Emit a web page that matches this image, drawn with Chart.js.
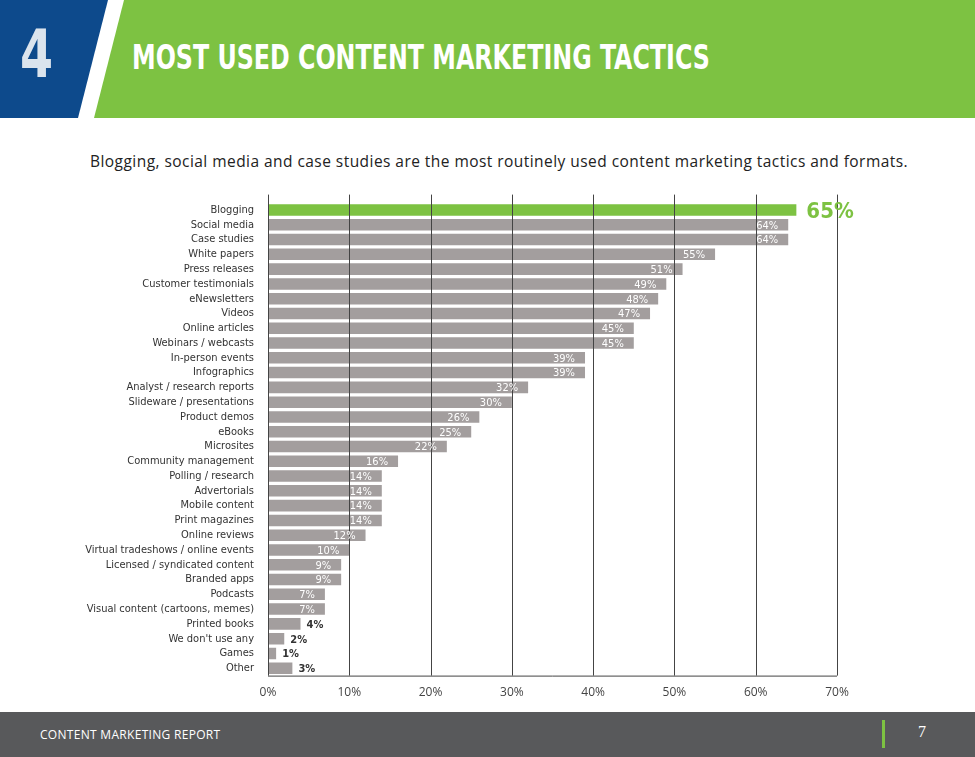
<!DOCTYPE html>
<html>
<head>
<meta charset="utf-8">
<script src="https://cdn.jsdelivr.net/npm/chart.js@4"></script>
<style>
  body { margin: 0; width: 975px; height: 757px; background: #fff; position: relative; overflow: hidden; font-family: "Open Sans", sans-serif; }
  .hdr { position: absolute; left: 0; top: 0; width: 975px; height: 118px; background: #7dc242; }
  .blue { position: absolute; left: 0; top: 0; width: 112px; height: 118px; background: #0d4a8c; clip-path: polygon(0 0, 112px 0, 82px 118px, 0 118px); }
  .white { position: absolute; left: 0; top: 0; width: 124px; height: 118px; background: #fff; clip-path: polygon(108px 0, 124px 0, 94px 118px, 78px 118px); }
  .num { position: absolute; left: 20px; top: 16px; color: #fff; font: bold 66px "DejaVu Sans Condensed", sans-serif; opacity: .85; transform: scaleX(.8); transform-origin: left; }
  .title { position: absolute; left: 132px; top: 38px; color: #fff; font: bold 33px "DejaVu Sans Condensed", sans-serif; transform: scaleX(.8); transform-origin: left; white-space: nowrap; }
  .sub { position: absolute; left: 90px; top: 150px; color: #222; font-size: 15.5px; letter-spacing: 0.45px; white-space: nowrap; }
  .ftr { position: absolute; left: 0; top: 712px; width: 975px; height: 45px; background: #58595b; color: #fff; }
  .ftr .l { position: absolute; left: 40px; top: 14px; font-size: 12px; letter-spacing: .3px; }
  .ftr .bar { position: absolute; left: 882px; top: 8px; width: 3px; height: 28px; background: #7dc242; }
  .ftr .p { position: absolute; left: 918px; top: 11px; font: 16px "Liberation Serif", serif; }
  #wrap { position: absolute; left: 0; top: 190px; width: 975px; height: 512px; }
</style>
</head>
<body>
<div class="hdr"></div>
<div class="blue"></div>
<div class="white"></div>
<div class="num">4</div>
<div class="title">MOST USED CONTENT MARKETING TACTICS</div>
<div class="sub">Blogging, social media and case studies are the most routinely used content marketing tactics and formats.</div>
<div id="wrap"><canvas id="c"></canvas></div>
<div class="ftr"><span class="l">CONTENT MARKETING REPORT</span><span class="bar"></span><span class="p">7</span></div>
<script>
const tactics = ["Blogging", "Social media", "Case studies", "White papers", "Press releases",
  "Customer testimonials", "eNewsletters", "Videos", "Online articles", "Webinars / webcasts",
  "In-person events", "Infographics", "Analyst / research reports", "Slideware / presentations",
  "Product demos", "eBooks", "Microsites", "Community management", "Polling / research",
  "Advertorials", "Mobile content", "Print magazines", "Online reviews",
  "Virtual tradeshows / online events", "Licensed / syndicated content", "Branded apps",
  "Podcasts", "Visual content (cartoons, memes)", "Printed books", "We don't use any", "Games", "Other"];
const usage = [65, 64, 64, 55, 51, 49, 48, 47, 45, 45, 39, 39, 32, 30, 26, 25, 22, 16, 14, 14, 14, 14, 12, 10, 9, 9, 7, 7, 4, 2, 1, 3];
const xTicks = [0, 10, 20, 30, 40, 50, 60, 70];

const GREEN = "#7dc242", GREY = "#a39e9e";
const labelFont = '"DejaVu Sans Condensed", "DejaVu Sans", sans-serif';

const overlay = {
  id: "overlay",
  afterDatasetsDraw(chart) {
    const { ctx, chartArea, scales } = chart;
    ctx.save();
    ctx.strokeStyle = "#444";
    ctx.lineWidth = 1;
    xTicks.forEach(t => {
      const x = Math.round(scales.x.getPixelForValue(t)) + 0.5;
      ctx.beginPath();
      ctx.moveTo(x, chartArea.top - 8);
      ctx.lineTo(x, chartArea.bottom);
      ctx.stroke();
    });
    ctx.beginPath();
    ctx.moveTo(chartArea.left, chartArea.bottom + 0.5);
    ctx.lineTo(chartArea.right, chartArea.bottom + 0.5);
    ctx.stroke();
    const meta = chart.getDatasetMeta(0);
    meta.data.forEach((bar, i) => {
      const v = usage[i];
      ctx.textBaseline = "middle";
      if (i === 0) {
        ctx.fillStyle = GREEN;
        ctx.font = "bold 22px " + labelFont;
        ctx.textAlign = "left";
        ctx.fillText(v + "%", bar.x + 10, bar.y + 2);
      } else if (v >= 7) {
        ctx.fillStyle = "#fff";
        ctx.font = "11px " + labelFont;
        ctx.textAlign = "right";
        ctx.fillText(v + "%", bar.x - 10, bar.y + 1);
      } else {
        ctx.fillStyle = "#333";
        ctx.font = "bold 11px " + labelFont;
        ctx.textAlign = "left";
        ctx.fillText(v + "%", bar.x + 6, bar.y + 1);
      }
    });
    ctx.restore();
  }
};

new Chart(document.getElementById("c"), {
  type: "bar",
  data: {
    labels: tactics,
    datasets: [{
      data: usage,
      backgroundColor: usage.map((v, i) => i === 0 ? GREEN : GREY),
      barPercentage: 0.78,
      categoryPercentage: 1,
    }],
  },
  options: {
    indexAxis: "y",
    responsive: true,
    maintainAspectRatio: false,
    animation: false,
    layout: { padding: { left: 0, right: 138, top: 10, bottom: 0 } },
    plugins: { legend: { display: false }, tooltip: { enabled: false } },
    scales: {
      x: {
        min: 0, max: 70,
        afterBuildTicks: s => { s.ticks = xTicks.map(v => ({ value: v })); },
        ticks: { callback: v => v + "%", color: "#444", font: { size: 12, family: "Open Sans" }, padding: 2 },
        grid: { display: false },
        border: { display: false },
      },
      y: {
        afterFit: s => { s.width = 268; },
        ticks: { color: "#333", font: { size: 11, family: labelFont }, padding: 6, autoSkip: false },
        grid: { display: false },
        border: { display: false },
      },
    },
  },
  plugins: [overlay],
});
</script>
</body>
</html>
